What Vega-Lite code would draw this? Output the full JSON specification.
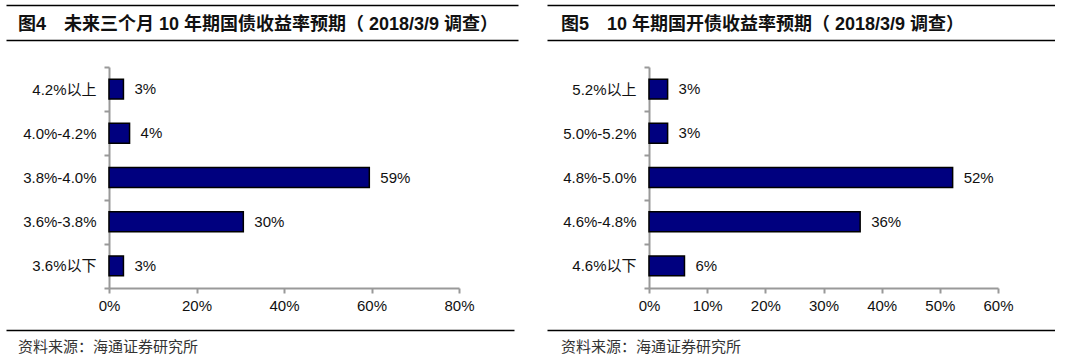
{
  "$schema": "https://vega.github.io/schema/vega-lite/v6.json",
  "padding": {"left": 6, "top": 5, "right": 0, "bottom": 0},
  "background": "white",
  "config": {
    "view": {"stroke": null},
    "font": "Liberation Sans, Noto Sans CJK SC",
    "text": {"font": "Liberation Sans, Noto Sans CJK SC"}
  },
  "datasets": {
    "t4": [{"title": "图4\u3000未来三个月 10 年期国债收益率预期（ 2018/3/9 调查）"}],
    "t5": [{"title": "图5\u300010 年期国开债收益率预期（ 2018/3/9 调查）"}],
    "src": [{"source": "资料来源：海通证券研究所"}],
    "d4": [
      {"cat": "4.2%以上", "value": 3.3, "label": "3%"},
      {"cat": "4.0%-4.2%", "value": 4.7, "label": "4%"},
      {"cat": "3.8%-4.0%", "value": 59.5, "label": "59%"},
      {"cat": "3.6%-3.8%", "value": 30.7, "label": "30%"},
      {"cat": "3.6%以下", "value": 3.3, "label": "3%"}
    ],
    "d5": [
      {"cat": "5.2%以上", "value": 3.2, "label": "3%"},
      {"cat": "5.0%-5.2%", "value": 3.2, "label": "3%"},
      {"cat": "4.8%-5.0%", "value": 52.2, "label": "52%"},
      {"cat": "4.6%-4.8%", "value": 36.3, "label": "36%"},
      {"cat": "4.6%以下", "value": 6.1, "label": "6%"}
    ],
    "empty": []
  },
  "spacing": 29,
  "hconcat": [
    {
      "spacing": 17,
      "vconcat": [
        {
          "spacing": 20,
          "vconcat": [
            {
              "width": 512, "height": 35,
              "data": {"name": "t4"},
              "mark": {"type": "text", "align": "left", "baseline": "middle", "dx": 12, "dy": 2, "fontSize": 18, "fontWeight": "bold", "color": "#111"},
              "encoding": {
                "text": {"field": "title"},
                "x": {"datum": 0, "type": "quantitative", "scale": {"domain": [0, 1]}, "axis": null},
                "y": {"datum": 0.5, "type": "quantitative", "scale": {"domain": [0, 1]},
                      "axis": {"values": [0, 1], "grid": true, "gridColor": "#000", "gridWidth": 1.5, "gridOpacity": 1, "labels": false, "ticks": false, "domain": false, "title": null}}
              }
            },
            {
              "spacing": 0,
              "hconcat": [
                {
                  "width": 1, "height": 1,
                  "data": {"name": "empty"},
                  "mark": {"type": "point", "opacity": 0}
                },
                {
                  "width": 350, "height": 221,
                  "data": {"name": "d4"},
                  "encoding": {
                    "y": {"field": "cat", "type": "nominal", "sort": null,
                          "scale": {"paddingInner": 0, "paddingOuter": 0},
                          "axis": {"title": null, "tickBand": "extent", "domainColor": "#999", "domainWidth": 2, "tickColor": "#999", "tickWidth": 2, "tickSize": 5, "labelFontSize": 15, "labelColor": "#111", "labelPadding": 8, "minExtent": 102, "labelFont": "Liberation Sans, Noto Sans CJK SC"}},
                    "x": {"field": "value", "type": "quantitative",
                          "scale": {"domain": [0, 80], "nice": false},
                          "axis": {"title": null, "values": [0, 20, 40, 60, 80], "labelExpr": "datum.value + '%'", "labelFlush": false, "grid": false, "domainColor": "#999", "domainWidth": 2, "tickColor": "#999", "tickWidth": 2, "tickSize": 5, "labelFontSize": 15, "labelColor": "#111", "labelPadding": 5, "labelFont": "Liberation Sans"}}
                  },
                  "layer": [
                    {"mark": {"type": "bar", "height": {"band": 0.45}, "fill": "#00007f", "stroke": "#000", "strokeWidth": 1.5}},
                    {"mark": {"type": "text", "align": "left", "baseline": "middle", "dx": 11, "fontSize": 15, "color": "#111", "font": "Liberation Sans"},
                     "encoding": {"text": {"field": "label"}}}
                  ]
                }
              ]
            }
          ]
        },
        {
          "width": 508, "height": 28,
          "data": {"name": "src"},
          "mark": {"type": "text", "align": "left", "baseline": "middle", "dx": 12, "dy": 3, "fontSize": 15, "color": "#333", "font": "Noto Sans CJK SC"},
          "encoding": {
            "text": {"field": "source"},
            "x": {"datum": 0, "type": "quantitative", "scale": {"domain": [0, 1]}, "axis": null},
            "y": {"datum": 0.5, "type": "quantitative", "scale": {"domain": [0, 1]},
                  "axis": {"values": [1], "grid": true, "gridColor": "#000", "gridWidth": 1.5, "gridOpacity": 1, "labels": false, "ticks": false, "domain": false, "title": null}}
          }
        }
      ]
    },
    {
      "spacing": 17,
      "vconcat": [
        {
          "spacing": 20,
          "vconcat": [
            {
              "width": 508, "height": 35,
              "data": {"name": "t5"},
              "mark": {"type": "text", "align": "left", "baseline": "middle", "dx": 14, "dy": 2, "fontSize": 18, "fontWeight": "bold", "color": "#111"},
              "encoding": {
                "text": {"field": "title"},
                "x": {"datum": 0, "type": "quantitative", "scale": {"domain": [0, 1]}, "axis": null},
                "y": {"datum": 0.5, "type": "quantitative", "scale": {"domain": [0, 1]},
                      "axis": {"values": [0, 1], "grid": true, "gridColor": "#000", "gridWidth": 1.5, "gridOpacity": 1, "labels": false, "ticks": false, "domain": false, "title": null}}
              }
            },
            {
              "spacing": 0,
              "hconcat": [
                {
                  "width": 1, "height": 1,
                  "data": {"name": "empty"},
                  "mark": {"type": "point", "opacity": 0}
                },
                {
                  "width": 349, "height": 221,
                  "data": {"name": "d5"},
                  "encoding": {
                    "y": {"field": "cat", "type": "nominal", "sort": null,
                          "scale": {"paddingInner": 0, "paddingOuter": 0},
                          "axis": {"title": null, "tickBand": "extent", "domainColor": "#999", "domainWidth": 2, "tickColor": "#999", "tickWidth": 2, "tickSize": 5, "labelFontSize": 15, "labelColor": "#111", "labelPadding": 8, "minExtent": 101, "labelFont": "Liberation Sans, Noto Sans CJK SC"}},
                    "x": {"field": "value", "type": "quantitative",
                          "scale": {"domain": [0, 60], "nice": false},
                          "axis": {"title": null, "values": [0, 10, 20, 30, 40, 50, 60], "labelExpr": "datum.value + '%'", "labelFlush": false, "grid": false, "domainColor": "#999", "domainWidth": 2, "tickColor": "#999", "tickWidth": 2, "tickSize": 5, "labelFontSize": 15, "labelColor": "#111", "labelPadding": 5, "labelFont": "Liberation Sans"}}
                  },
                  "layer": [
                    {"mark": {"type": "bar", "height": {"band": 0.45}, "fill": "#00007f", "stroke": "#000", "strokeWidth": 1.5}},
                    {"mark": {"type": "text", "align": "left", "baseline": "middle", "dx": 11, "fontSize": 15, "color": "#111", "font": "Liberation Sans"},
                     "encoding": {"text": {"field": "label"}}}
                  ]
                }
              ]
            }
          ]
        },
        {
          "width": 508, "height": 28,
          "data": {"name": "src"},
          "mark": {"type": "text", "align": "left", "baseline": "middle", "dx": 14, "dy": 3, "fontSize": 15, "color": "#333", "font": "Noto Sans CJK SC"},
          "encoding": {
            "text": {"field": "source"},
            "x": {"datum": 0, "type": "quantitative", "scale": {"domain": [0, 1]}, "axis": null},
            "y": {"datum": 0.5, "type": "quantitative", "scale": {"domain": [0, 1]},
                  "axis": {"values": [1], "grid": true, "gridColor": "#000", "gridWidth": 1.5, "gridOpacity": 1, "labels": false, "ticks": false, "domain": false, "title": null}}
          }
        }
      ]
    }
  ]
}
